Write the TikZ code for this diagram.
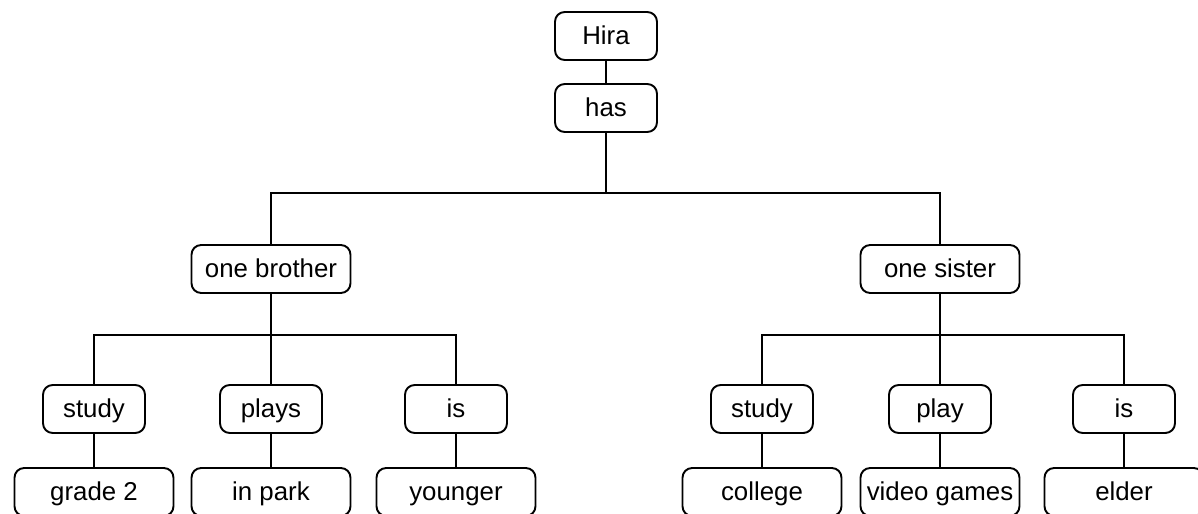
\documentclass[tikz,border=0pt]{standalone}
\usepackage{fontspec}
\setmainfont{Liberation Sans}
\begin{document}
\begin{tikzpicture}[x=0.02cm, y=-0.02cm,
  word/.style={shape=rectangle, draw, rounded corners=5.5pt, line width=1.1pt, inner sep=0pt,
    minimum width=2.04cm, minimum height=0.96cm, text height=11.5pt, text depth=1.3pt,
    font=\fontsize{14.7}{17}\selectfont},
  wide/.style={word, minimum width=3.18cm},
  link/.style={line width=1.1pt}]
    \useasboundingbox (0,0) rectangle (1198,514);
    % top of the tree
    \node[word] (hira) at (606,36) {Hira};
    \node[word] (has) at (606,108) {has};
    \node[wide] (brother) at (271,269) {one brother};
    \node[wide] (sister) at (940,269) {one sister};
    % verbs
    \node[word] (bstudy) at (94,409) {study};
    \node[word] (bplays) at (271,409) {plays};
    \node[word] (bis) at (456,409) {is};
    \node[word] (sstudy) at (762,409) {study};
    \node[word] (splay) at (940,409) {play};
    \node[word] (sis) at (1124,409) {is};
    % what they are
    \node[wide] (grade) at (94,492) {grade 2};
    \node[wide] (park) at (271,492) {in park};
    \node[wide] (younger) at (456,492) {younger};
    \node[wide] (college) at (762,492) {college};
    \node[wide] (games) at (940,492) {video games};
    \node[wide] (elder) at (1124,492) {elder};

    \coordinate (top) at (606,193);
    \coordinate (lbar) at (271,335);
    \coordinate (rbar) at (940,335);

    \draw[link] (hira) -- (has);
    \draw[link] (has) -- (top) -| (brother);
    \draw[link] (top) -| (sister);
    \draw[link] (brother) -- (lbar) -| (bstudy);
    \draw[link] (lbar) -| (bis);
    \draw[link] (lbar) -- (bplays);
    \draw[link] (sister) -- (rbar) -| (sstudy);
    \draw[link] (rbar) -| (sis);
    \draw[link] (rbar) -- (splay);
    \foreach \a/\b in {bstudy/grade, bplays/park, bis/younger, sstudy/college, splay/games, sis/elder}
      \draw[link] (\a) -- (\b);
  \end{tikzpicture}
\end{document}
